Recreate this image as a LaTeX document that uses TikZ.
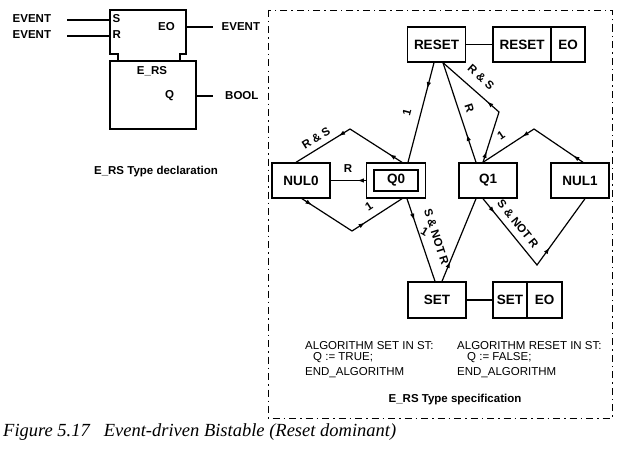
\documentclass[tikz,border=0pt]{standalone}
\usepackage{fontspec}
\setmainfont{Liberation Sans}
\newfontfamily\capfont{Liberation Serif}
\usetikzlibrary{arrows.meta,decorations.markings,calc}
\tikzset{
  box/.style={draw, line width=1.4pt, minimum width=58pt, minimum height=35pt, inner sep=0pt, font=\fontsize{13.5}{15}\selectfont\bfseries},
  conn/.style={line width=1.2pt, line join=miter},
  ma/.style={decoration={markings, mark=at position #1 with {\arrow{Latex[length=6.5pt,width=4.5pt]}}}, postaction={decorate}},
  mb/.style 2 args={decoration={markings, mark=at position #1 with {\arrow{Latex[length=6.5pt,width=4.5pt]}}, mark=at position #2 with {\arrow{Latex[length=6.5pt,width=4.5pt]}}}, postaction={decorate}},
  lbl/.style={font=\fontsize{11.5}{13}\selectfont\bfseries, inner sep=0pt},
  fbt/.style={font=\fontsize{11.5}{13}\selectfont\bfseries, inner sep=0pt},
  fbline/.style={line width=1.4pt},
  alg/.style={font=\fontsize{11.5}{13}\selectfont, inner sep=0pt, anchor=west},
  dashdot/.style={line width=0.8pt, dash pattern=on 7pt off 4pt on 1.5pt off 4pt},
}
\begin{document}
\begin{tikzpicture}[x=1pt,y=-1pt]
\useasboundingbox (0,0) rectangle (618,452);

% ---------- type declaration ----------
\draw[fbline] (118,61) -- (118,54) -- (110,54) -- (110,10) -- (186,10) -- (186,54) -- (180,54) -- (180,61);
\draw[fbline] (110,61) rectangle (196,129);
\node[fbt, anchor=west] (ev1) at (12.5,18.5) {EVENT};
\node[fbt, anchor=west] (ev2) at (12.5,34.5) {EVENT};
\node[fbt, anchor=west] (inS) at (112.5,18.5) {S};
\node[fbt, anchor=west] (inR) at (112.5,34.5) {R};
\node[fbt] (outEO) at (166.5,27) {EO};
\node[fbt] (ers) at (152,71) {E\_RS};
\node[fbt] (oq) at (169.5,96) {Q};
\node[fbt, anchor=west] (oev) at (221.5,27) {EVENT};
\node[fbt, anchor=west] (obool) at (225,96) {BOOL};
\coordinate (s1a) at (67,20);  \coordinate (s1b) at (110,20);
\coordinate (s2a) at (67,36);  \coordinate (s2b) at (110,36);
\coordinate (eoa) at (186,27); \coordinate (eob) at (213,27);
\coordinate (qa) at (196,96);  \coordinate (qb) at (213,96);
\draw[conn] (s1a) -- (s1b);
\draw[conn] (s2a) -- (s2b);
\draw[conn] (eoa) -- (eob);
\draw[conn] (qa) -- (qb);
\node[fbt] (decl) at (156,172) {E\_RS Type declaration};

% ---------- type specification ----------
\draw[dashdot] (268,10) rectangle (612,418);

\node[box] (RESET) at (436.5,44.5) {RESET};
\node[box] (RESETa) at (522,44.5) {RESET};
\node[box, minimum width=34pt] (RESETb) at (568,44.5) {EO};
\node[box] (NUL0) at (301,180.5) {NUL0};
\node[box, minimum width=59pt] (Q0) at (396,180.5) {};
\node[draw, line width=1.1pt, minimum width=44pt, minimum height=21pt, inner sep=0pt, font=\fontsize{13.5}{15}\selectfont\bfseries] (Q0in) at (Q0.center) {Q0};
\node[box] (Q1) at (488,180.5) {Q1};
\node[box] (NUL1) at (580,180.5) {NUL1};
\node[box, minimum height=36pt] (SET) at (437,300) {SET};
\node[box, minimum width=34pt, minimum height=36pt] (SETa) at (510,300) {SET};
\node[box, minimum width=35pt, minimum height=36pt] (SETb) at (544.5,300) {EO};

\draw[conn] (RESET.east) -- (RESETa.west);
\draw[conn] (SET.east) -- (SETa.west);

\coordinate (pTL) at (350,129);
\coordinate (pBL) at (352,231);
\coordinate (pRS) at (499,112);
\coordinate (pTR) at (534,129);
\coordinate (pBR) at (537,265);

\draw[conn, ma=0.24] (Q0.west) -- (NUL0.east);
\draw[conn, mb={0.12}{0.6}] ([xshift=6pt]Q0.north) -- (pTL) -- ([xshift=-5pt]NUL0.north);
\draw[conn, mb={0.1}{0.63}] ([xshift=1pt]NUL0.south) -- (pBL) -- ([xshift=6pt]Q0.south);
\draw[conn, ma=0.26] ([xshift=-2.5pt]RESET.south) -- ([xshift=12pt]Q0.north);
\draw[conn, ma=0.28] ([xshift=-12pt]Q1.north) -- ([xshift=6.5pt]RESET.south);
\draw[conn, mb={0.09}{0.54}] ([xshift=-5pt]Q1.north) -- (pRS) -- ([xshift=6.5pt]RESET.south);
\draw[conn, mb={0.1}{0.61}] ([xshift=3pt]NUL1.north) -- (pTR) -- ([xshift=-5pt]Q1.north);
\draw[conn, mb={0.11}{0.64}] ([xshift=-5pt]Q1.south) -- (pBR) -- ([xshift=5pt]NUL1.south);
\draw[conn, ma=0.26] ([xshift=11pt]Q0.south) -- ([xshift=-2pt]SET.north);
\draw[conn, ma=0.24] ([xshift=5pt]SET.north) -- ([xshift=-12pt]Q1.south);

\node[lbl, rotate=32] (lRS1) at (316,138) {R \& S};
\node[lbl] (lR1) at (348,169) {R};
\node[lbl, rotate=33] (l1a) at (369,206) {1};
\node[lbl, rotate=75] (l1b) at (407,112) {1};
\node[lbl, rotate=-72] (lR2) at (469.5,108) {R};
\node[lbl, rotate=-42] (lRS2) at (481,77) {R \& S};
\node[lbl, rotate=34] (l1c) at (501,135) {1};
\node[lbl, rotate=-72] (lSNR1) at (436.5,237) {S \& NOT R};
\node[lbl, rotate=-30] (l1d) at (424.5,232) {1};
\node[lbl, rotate=-51] (lSNR2) at (518,224) {S \& NOT R};

\node[alg] (a1) at (305,346) {ALGORITHM SET IN ST:};
\node[alg] (a2) at (313,357.5) {Q := TRUE;};
\node[alg] (a3) at (305,373) {END\_ALGORITHM};
\node[alg] (b1) at (457,346) {ALGORITHM RESET IN ST:};
\node[alg] (b2) at (467,357.5) {Q := FALSE;};
\node[alg] (b3) at (457,373) {END\_ALGORITHM};
\node[fbt] (spec) at (455,400) {E\_RS Type specification};

% ---------- caption ----------
\node[anchor=west, inner sep=0pt, font=\capfont\itshape\fontsize{18.5}{20}\selectfont] (cap) at (3,432) {Figure 5.17\hspace{14pt}Event-driven Bistable (Reset dominant)};
\end{tikzpicture}
\end{document}
